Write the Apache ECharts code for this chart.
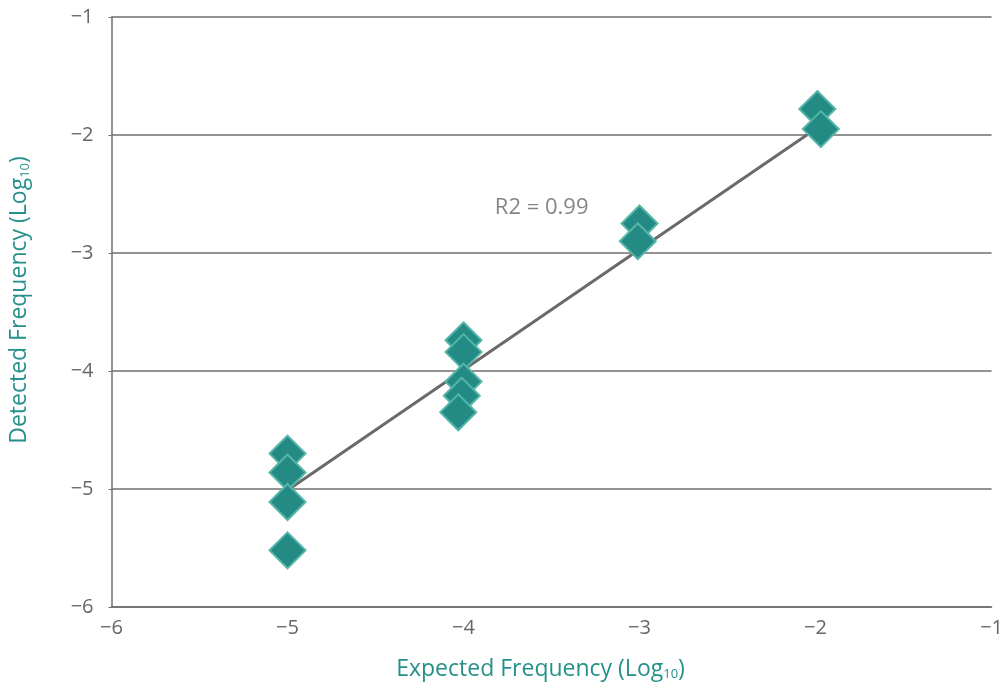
<!DOCTYPE html>
<html><head><meta charset="utf-8">
<script src="https://cdn.jsdelivr.net/npm/echarts@6/dist/echarts.min.js"></script>
<style>html,body{margin:0;padding:0;background:#fff}#c{width:1006px;height:686px}</style>
</head><body><div id="c"></div>
<script>
var points = [
  [-5.0, -4.70], [-5.0, -4.86], [-5.0, -5.11], [-5.0, -5.52],
  [-4.0, -3.74], [-4.0, -3.84], [-4.0, -4.09], [-4.01, -4.21], [-4.03, -4.35],
  [-3.0, -2.75], [-3.01, -2.90],
  [-1.99, -1.78], [-1.97, -1.95]
];
var trend = [[-5.0, -5.01], [-2.0, -1.95]];
var annotation = [[-3.556, -2.62]];
var annotationText = 'R2 = 0.99';
var xTicks = [-6, -5, -4, -3, -2, -1];
var yTicks = [-6, -5, -4, -3, -2, -1];

var teal = '#26918a';
var grey = '#6f6f6f';
var font = 'Open Sans';
function fmt(v){ return String(v).replace('-', '\u2212'); }
var chart = echarts.init(document.getElementById('c'));
chart.setOption({
  animation: false,
  grid: {left: 111, right: -1, top: 17, bottom: 79},
  xAxis: {
    type: 'value', min: xTicks[0], max: xTicks[xTicks.length-1], interval: 1,
    axisLine: {show: true, lineStyle: {color: grey, width: 1.5}},
    axisTick: {show: false},
    splitLine: {show: false},
    axisLabel: {color: '#666', fontSize: 20, fontFamily: font, margin: 11, formatter: fmt},
    name: 'Expected Frequency (Log{s|10})',
    nameLocation: 'middle', nameGap: 50,
    nameTextStyle: {color: teal, fontSize: 23, fontFamily: font, padding: [0, 22, 0, 0],
      rich: {s: {fontSize: 13, color: teal, fontFamily: font, padding: [11,0,0,0]}}}
  },
  yAxis: {
    type: 'value', min: yTicks[0], max: yTicks[yTicks.length-1], interval: 1,
    axisLine: {show: true, lineStyle: {color: grey, width: 1.5}},
    axisTick: {show: true, length: 3, lineStyle: {color: grey}},
    splitLine: {show: true, lineStyle: {color: grey, width: 1.5}},
    axisLabel: {color: '#666', fontSize: 20, fontFamily: font, margin: 18, formatter: fmt},
    name: 'Detected Frequency (Log{s|10})',
    nameLocation: 'middle', nameGap: 80,
    nameTextStyle: {color: teal, fontSize: 23, fontFamily: font, padding: [0, 0, 0, 24],
      rich: {s: {fontSize: 13, color: teal, fontFamily: font, padding: [11,0,0,0]}}}
  },
  series: [
    {type: 'line', data: trend, symbol: 'none', z: 2,
     lineStyle: {color: '#6a6a6a', width: 3}},
    {type: 'scatter', data: points, symbol: 'diamond', symbolSize: 36, z: 3,
     itemStyle: {color: '#238a84', borderColor: '#55b5a9', borderWidth: 2, opacity: 1}},
    {type: 'scatter', data: annotation, symbolSize: 1, z: 4,
     itemStyle: {color: 'rgba(0,0,0,0)'},
     label: {show: true, position: 'inside', formatter: annotationText,
       color: '#666', fontSize: 22, fontFamily: font}}
  ]
});
</script></body></html>
